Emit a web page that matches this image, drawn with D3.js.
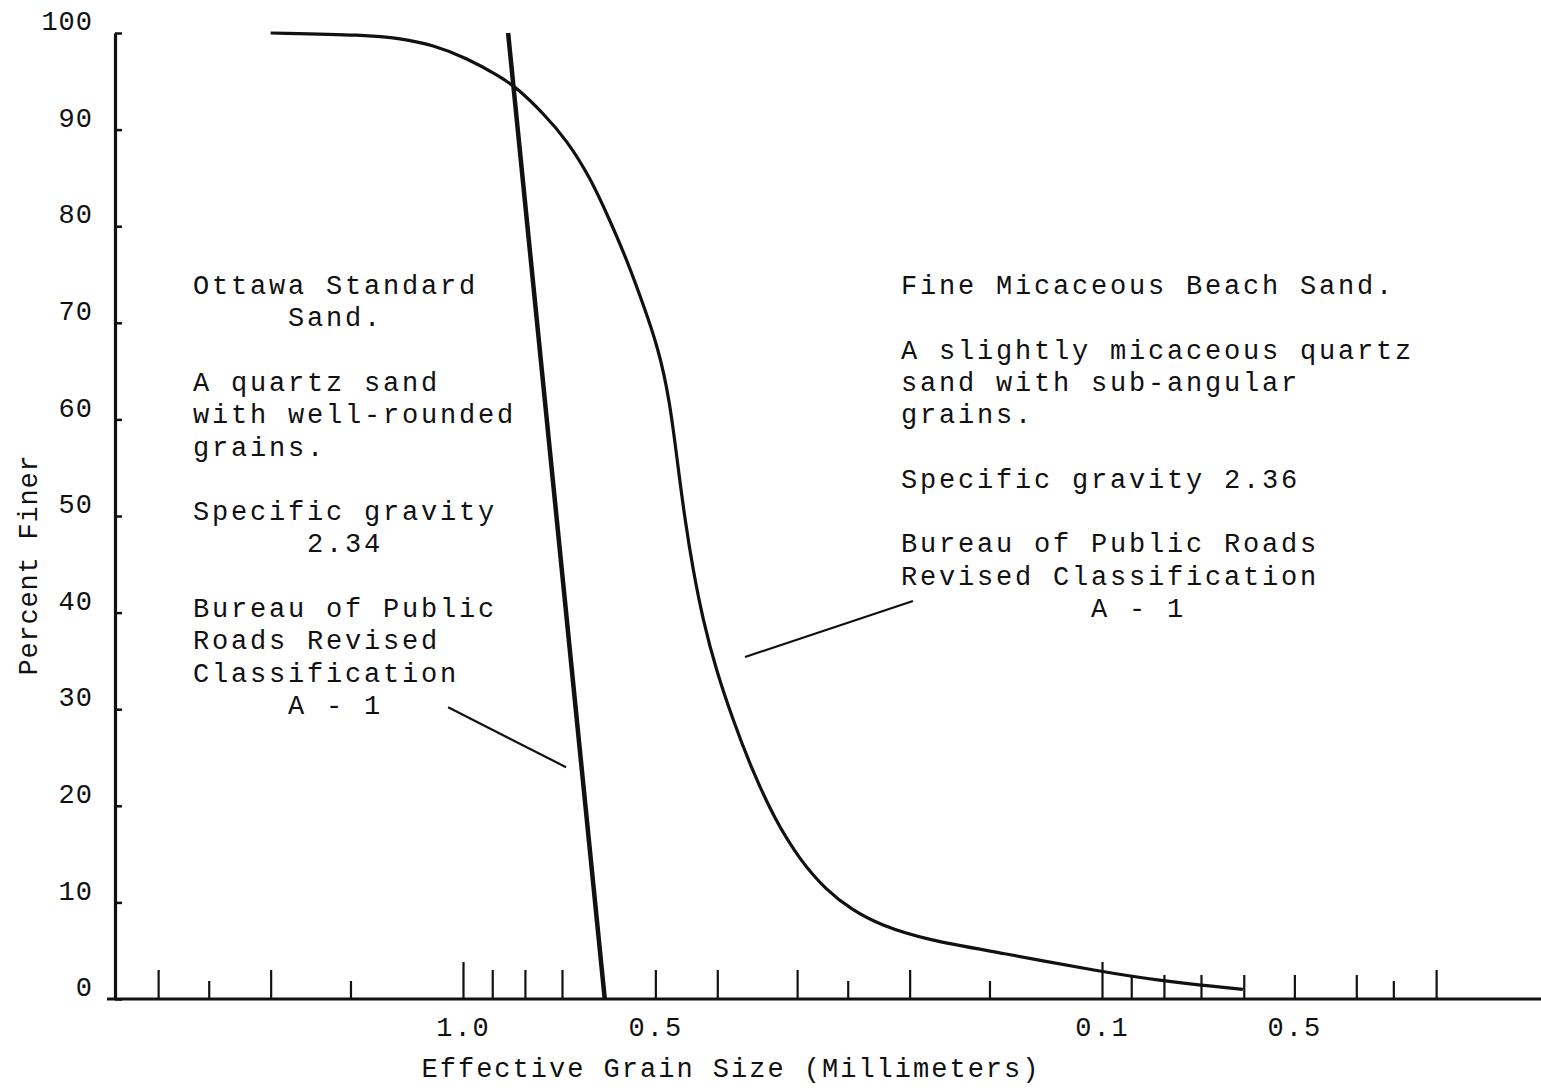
<!DOCTYPE html>
<html><head><meta charset="utf-8">
<script src="https://cdn.jsdelivr.net/npm/d3@7"></script>
<style>
html,body{margin:0;padding:0;background:#fff;}
svg{display:block;}
text{font-family:"Liberation Mono","Courier New",monospace;fill:#111;}
</style></head><body>
<svg id="chart" width="1541" height="1088"></svg>
<script>
// ---------- data ----------
const yTicks = [0, 10, 20, 30, 40, 50, 60, 70, 80, 90, 100];
const xMajorTicks = [1, 0.1];
const xTicks = [3, 2, 0.9, 0.8, 0.7, 0.5, 0.4, 0.3, 0.2, 0.03];
const xMidTicks = [0.09, 0.08, 0.07, 0.06, 0.05, 0.04];
const xMinorTicks = [2.5, 1.5, 0.25, 0.15, 0.035];
const xLabelValues = [1, 0.5, 0.1, 0.05];
const xLabelTexts = ["1.0", "0.5", "0.1", "0.5"];

// Ottawa Standard Sand (grain size mm, percent finer)
const ottawaSize  = [0.85, 0.6];
const ottawaFiner = [100, 0];

// Fine Micaceous Beach Sand
const beachSize  = [2.0, 1.415, 1.255, 1.114, 0.986, 0.875, 0.823, 0.749, 0.688, 0.633, 0.589, 0.554, 0.523, 0.4953, 0.475, 0.4608, 0.4493, 0.4365, 0.4211, 0.4017, 0.378, 0.3529, 0.3249, 0.297, 0.2703, 0.2461, 0.2225, 0.188, 0.1445, 0.1, 0.08, 0.0704, 0.0602, 0.0602];
const beachFiner = [100, 99.8, 99.45, 98.76, 97.4, 95.5, 94.3, 91.7, 88.9, 85.1, 80.6, 76.5, 72.0, 67.49, 62.11, 55.07, 49.59, 44.41, 39.23, 34.06, 28.88, 23.71, 18.53, 14.39, 11.28, 9.21, 7.66, 6.1, 4.8, 2.8, 1.86, 1.45, 1.0, 1.0];

// leader lines (size, finer)
const ottawaLeaderSize  = [1.055, 0.69];
const ottawaLeaderFiner = [30.2, 24.0];
const beachLeaderSize   = [0.362, 0.1976];
const beachLeaderFiner  = [35.4, 41.2];

const leftNote = ["Ottawa Standard", "     Sand.", "", "A quartz sand", "with well-rounded", "grains.", "", "Specific gravity", "      2.34", "", "Bureau of Public", "Roads Revised", "Classification", "     A - 1"];
const rightNote = ["Fine Micaceous Beach Sand.", "", "A slightly micaceous quartz", "sand with sub-angular", "grains.", "", "Specific gravity 2.36", "", "Bureau of Public Roads", "Revised Classification", "          A - 1"];

const xTitle = "Effective Grain Size (Millimeters)";
const yTitle = "Percent Finer";

// ---------- layout ----------
const W = 1541, H = 1088;
const axisX = 115, axisY = 999, topY = 33;
const svg = d3.select("#chart");

const x = d3.scaleLog().domain([1, 0.1]).range([463, 1102]);
const y = d3.scaleLinear().domain([0, 100]).range([axisY, topY]);

const FS = 27, LS = 2.8;

// Y axis
const gy = svg.append("g").attr("transform", `translate(${axisX},0)`)
  .call(d3.axisLeft(y).tickValues(yTicks).tickSizeInner(-7).tickSizeOuter(0).tickPadding(22));
gy.select(".domain").attr("stroke", "#111").attr("stroke-width", 3.2);
gy.selectAll(".tick line").attr("stroke", "#111").attr("stroke-width", 2.5);
gy.selectAll(".tick text").attr("dy", "-0.12em").style("font-size", FS + "px")
  .style("letter-spacing", "1px").attr("fill", "#111");

// X axis baseline
svg.append("line").attr("x1", axisX - 8).attr("x2", W).attr("y1", axisY).attr("y2", axisY)
  .attr("stroke", "#111").attr("stroke-width", 3.2);

function tickGroup(vals, len) {
  const g = svg.append("g").attr("transform", `translate(0,${axisY})`)
    .call(d3.axisBottom(x).tickValues(vals).tickSizeInner(-len).tickSizeOuter(0).tickFormat(""));
  g.select(".domain").remove();
  g.selectAll(".tick line").attr("stroke", "#111").attr("stroke-width", 2.2);
}
tickGroup(xMajorTicks, 37);
tickGroup(xTicks, 29);
tickGroup(xMidTicks, 24);
tickGroup(xMinorTicks, 18);

const gl = svg.append("g").attr("transform", `translate(0,${axisY})`)
  .call(d3.axisBottom(x).tickValues(xLabelValues).tickSize(0)
    .tickFormat((d, i) => xLabelTexts[i]));
gl.select(".domain").remove();
gl.selectAll(".tick text").attr("y", 37).attr("dy", 0).style("font-size", FS + "px")
  .style("letter-spacing", "2px").attr("fill", "#111");

// Titles
svg.append("text").attr("x", 731).attr("y", 1077).attr("text-anchor", "middle")
  .style("font-size", FS + "px").style("letter-spacing", "2px").text(xTitle);
svg.append("text").attr("transform", "translate(37,565) rotate(-90)").attr("text-anchor", "middle")
  .style("font-size", FS + "px").style("letter-spacing", "0.8px").text(yTitle);

// Curves
const beach = beachSize.map((s, i) => [s, beachFiner[i]]);
svg.append("path").attr("d", d3.line().x(d => x(d[0])).y(d => y(d[1])).curve(d3.curveBasis)(beach))
  .attr("fill", "none").attr("stroke", "#111").attr("stroke-width", 3.2);

const ottawa = ottawaSize.map((s, i) => [s, ottawaFiner[i]]);
svg.append("path").attr("d", d3.line().x(d => x(d[0])).y(d => y(d[1]))(ottawa))
  .attr("fill", "none").attr("stroke", "#111").attr("stroke-width", 4.5);

[[ottawaLeaderSize, ottawaLeaderFiner], [beachLeaderSize, beachLeaderFiner]].forEach(([s, f]) => {
  svg.append("line").attr("x1", x(s[0])).attr("y1", y(f[0])).attr("x2", x(s[1])).attr("y2", y(f[1]))
    .attr("stroke", "#111").attr("stroke-width", 2.2);
});

// Notes
function note(lines, x0, y0) {
  const t = svg.append("text").style("font-size", FS + "px").style("letter-spacing", LS + "px")
    .style("white-space", "pre").attr("xml:space", "preserve");
  lines.forEach((l, i) => {
    if (!l) return;
    t.append("tspan").attr("x", x0).attr("y", y0 + i * 32.3).text(l);
  });
}
note(leftNote, 193, 294);
note(rightNote, 901, 294);
</script>
</body></html>
